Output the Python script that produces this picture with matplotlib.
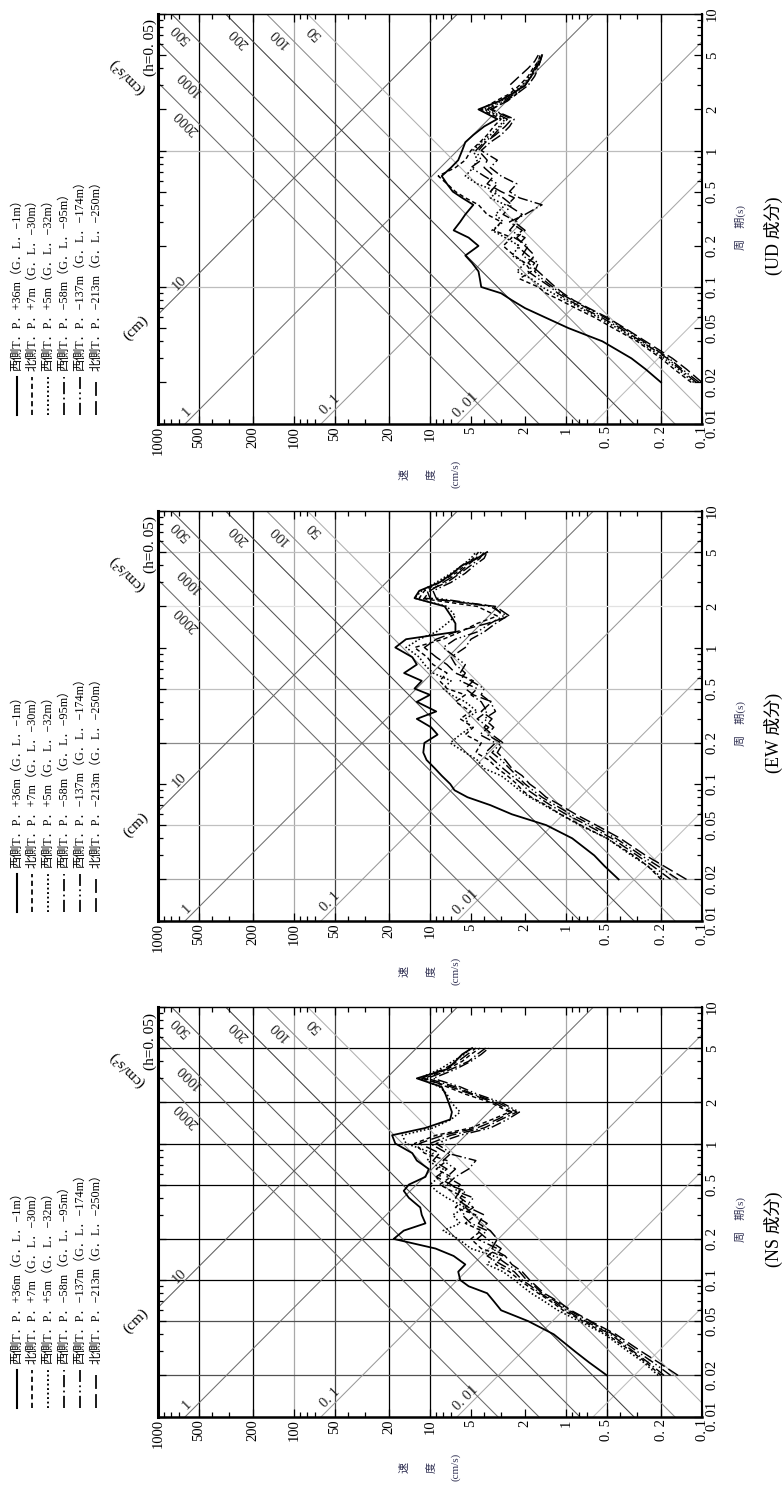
"""
三方向速度応答スペクトル (h=0.05)  UD / EW / NS
"""

import matplotlib
matplotlib.use('Agg')
import matplotlib.pyplot as plt
from matplotlib.lines import Line2D
from matplotlib.ticker import LogLocator, NullFormatter
import numpy as np

plt.rcParams['font.family'] = ['Liberation Serif', 'Noto Sans CJK JP', 'DejaVu Sans']

W, H = 783, 1488

# 周期 (s)
period = [0.02, 0.025, 0.03, 0.04, 0.05, 0.06, 0.07, 0.08, 0.09, 0.1,
          0.115, 0.13, 0.15, 0.17, 0.2, 0.23, 0.26, 0.3, 0.34, 0.4,
          0.45, 0.5, 0.57, 0.65, 0.75, 0.85, 1.0, 1.15, 1.3, 1.5,
          1.7, 2.0, 2.3, 2.6, 3.0, 3.5, 4.0, 4.5, 5.0]

# UD 成分 速度 (cm/s)
ud_v1 = [0.2, 0.26, 0.33, 0.54, 0.96, 1.43, 2.0, 2.5, 3.0, 4.2,
         4.3, 4.4, 4.9, 5.5, 4.4, 5.2, 6.7, 6.0, 5.5, 4.8,
         5.8, 6.8, 7.5, 8.2, 7.0, 6.2, 5.8, 5.5, 4.8, 4.0,
         3.2, 4.4, 3.1, 2.5, 2.0, 1.8, 1.7, 1.55, 1.5]
ud_v2 = [0.12, 0.16, 0.2, 0.3, 0.45, 0.62, 0.85, 1.1, 1.4, 1.6,
         2.2, 1.8, 2.0, 2.4, 2.9, 2.5, 3.4, 3.0, 3.8, 4.4,
         5.5, 6.5, 7.5, 8.7, 6.5, 5.5, 5.0, 4.3, 3.8, 3.4,
         3.0, 4.2, 3.3, 2.6, 2.2, 1.9, 1.75, 1.6, 1.55]
ud_v3 = [0.115, 0.15, 0.19, 0.29, 0.42, 0.58, 0.78, 1.0, 1.25, 1.5,
         1.8, 2.3, 2.0, 2.5, 2.2, 2.8, 3.5, 2.9, 3.3, 2.8,
         3.6, 3.2, 4.5, 5.5, 4.8, 4.5, 4.8, 4.2, 3.6, 3.1,
         2.8, 4.0, 3.0, 2.5, 2.1, 1.85, 1.7, 1.6, 1.5]
ud_v4 = [0.11, 0.145, 0.18, 0.28, 0.4, 0.55, 0.75, 0.95, 1.15, 1.3,
         1.6, 1.9, 1.7, 2.1, 1.9, 2.4, 2.1, 2.6, 2.0, 1.5,
         2.2, 2.6, 2.3, 3.0, 3.6, 3.2, 4.2, 3.6, 3.0, 2.6,
         2.4, 3.5, 2.8, 2.3, 1.9, 1.7, 1.6, 1.55, 1.5]
ud_v5 = [0.105, 0.14, 0.175, 0.27, 0.38, 0.52, 0.7, 0.9, 1.1, 1.25,
         1.5, 1.7, 1.6, 1.9, 2.3, 2.0, 2.6, 2.3, 2.9, 2.5,
         2.9, 3.6, 3.2, 4.0, 5.0, 4.2, 4.6, 4.0, 3.4, 3.0,
         2.7, 3.8, 2.9, 2.4, 2.0, 1.8, 1.65, 1.55, 1.5]
ud_v6 = [0.1, 0.13, 0.165, 0.26, 0.37, 0.5, 0.68, 0.88, 1.05, 1.2,
         1.4, 1.6, 1.9, 1.7, 2.0, 2.3, 2.0, 2.4, 2.1, 2.7,
         2.4, 3.0, 3.8, 3.4, 4.0, 3.8, 4.4, 3.9, 3.3, 2.8,
         2.5, 3.6, 2.7, 2.3, 2.6, 2.2, 1.9, 1.7, 1.6]

# EW 成分
ew_v1 = [0.41, 0.52, 0.62, 0.9, 1.4, 2.5, 3.6, 5.3, 6.6, 7.1,
         8.2, 9.2, 10.6, 11.2, 11.0, 8.8, 9.8, 12.5, 9.0, 12.5,
         10.0, 13.0, 11.5, 15.5, 12.5, 13.5, 18.0, 15.0, 6.5, 6.5,
         7.0, 7.8, 13.0, 12.0, 8.5, 6.8, 5.8, 4.5, 3.8]
ew_v2 = [0.2, 0.25, 0.32, 0.5, 0.78, 1.1, 1.4, 1.8, 2.1, 2.3,
         2.7, 3.2, 3.7, 4.6, 4.2, 5.5, 4.8, 6.0, 5.0, 6.5,
         5.5, 7.5, 8.5, 7.5, 9.5, 10.5, 13.0, 8.0, 6.0, 4.5,
         3.2, 4.5, 12.0, 11.0, 8.5, 6.5, 5.5, 4.8, 4.4]
ew_v3 = [0.19, 0.25, 0.33, 0.5, 0.8, 1.1, 1.45, 1.85, 2.2, 2.5,
         3.0, 4.0, 4.5, 5.5, 7.1, 6.0, 5.0, 5.5, 4.5, 5.5,
         7.0, 8.0, 7.0, 9.5, 11.0, 12.0, 15.0, 12.0, 9.0, 7.5,
         6.5, 7.5, 13.0, 11.5, 9.0, 7.0, 5.8, 5.0, 4.6]
ew_v4 = [0.17, 0.23, 0.3, 0.46, 0.7, 1.0, 1.3, 1.6, 1.9, 2.1,
         2.5, 2.9, 3.4, 3.9, 3.3, 4.3, 3.7, 4.5, 3.8, 4.2,
         5.0, 4.5, 6.0, 5.5, 6.5, 7.0, 5.5, 5.0, 4.0, 3.3,
         2.7, 3.6, 10.0, 10.5, 7.5, 6.0, 5.0, 4.3, 4.0]
ew_v5 = [0.15, 0.21, 0.28, 0.43, 0.65, 0.92, 1.2, 1.5, 1.75, 2.0,
         2.3, 2.6, 3.0, 3.5, 3.0, 3.8, 3.4, 4.0, 3.3, 3.6,
         4.2, 4.0, 5.0, 6.0, 5.5, 6.5, 8.0, 6.5, 4.5, 3.6,
         2.9, 3.4, 9.0, 9.5, 7.0, 5.5, 4.7, 4.0, 3.8]
ew_v6 = [0.13, 0.19, 0.26, 0.4, 0.6, 0.85, 1.1, 1.4, 1.6, 1.85,
         2.1, 2.5, 2.8, 3.2, 2.9, 3.5, 4.0, 3.5, 4.2, 3.5,
         4.8, 5.5, 4.8, 6.5, 7.5, 9.0, 11.0, 9.0, 6.5, 3.8,
         2.6, 3.3, 11.0, 10.0, 8.0, 6.2, 5.3, 4.6, 4.2]

# NS 成分
ns_v1 = [0.5, 0.68, 0.86, 1.23, 1.9, 3.0, 3.4, 3.8, 5.2, 6.0,
         6.2, 5.5, 6.7, 9.1, 18.5, 15.6, 10.8, 11.5, 11.8, 14.3,
         15.6, 14.3, 10.8, 10.2, 12.5, 13.5, 18.0, 19.0, 10.8, 7.1,
         6.9, 7.3, 7.7, 8.2, 12.5, 7.5, 6.5, 5.8, 4.9]
ns_v2 = [0.2, 0.26, 0.33, 0.5, 0.75, 1.05, 1.3, 1.6, 1.9, 2.2,
         2.6, 3.3, 2.9, 4.2, 5.0, 4.2, 5.5, 4.6, 6.5, 5.5,
         7.0, 8.5, 7.0, 9.0, 7.5, 11.0, 13.0, 9.0, 5.0, 3.5,
         2.6, 3.6, 5.5, 7.5, 11.0, 7.5, 5.8, 5.0, 4.3]
ns_v3 = [0.21, 0.27, 0.35, 0.52, 0.8, 1.15, 1.45, 1.8, 2.1, 2.4,
         2.9, 3.8, 3.4, 5.0, 6.2, 8.0, 6.0, 6.8, 5.5, 7.5,
         9.0, 10.0, 8.5, 8.0, 10.5, 9.5, 15.0, 16.0, 9.5, 7.0,
         6.0, 7.0, 7.5, 8.5, 12.0, 8.5, 6.8, 5.6, 5.0]
ns_v4 = [0.19, 0.25, 0.32, 0.47, 0.72, 1.0, 1.25, 1.55, 1.8, 2.1,
         2.4, 3.0, 3.8, 3.2, 4.5, 3.8, 5.0, 5.8, 4.8, 6.0,
         5.5, 7.5, 6.5, 5.2, 4.6, 7.5, 10.0, 7.0, 4.0, 3.0,
         2.3, 3.2, 4.8, 6.5, 10.5, 7.0, 5.2, 4.5, 3.9]
ns_v5 = [0.17, 0.23, 0.3, 0.45, 0.68, 0.95, 1.2, 1.5, 1.7, 1.95,
         2.2, 2.7, 3.3, 3.0, 3.8, 4.5, 3.8, 4.8, 5.5, 4.8,
         6.5, 6.0, 7.5, 6.5, 8.0, 7.0, 9.0, 6.0, 3.6, 2.7,
         2.2, 3.0, 4.5, 6.0, 9.5, 6.5, 5.0, 4.2, 3.7]
ns_v6 = [0.15, 0.21, 0.28, 0.43, 0.66, 0.92, 1.15, 1.45, 1.65, 1.85,
         2.1, 2.5, 2.8, 3.5, 3.2, 3.6, 4.4, 4.0, 5.2, 6.5,
         6.0, 7.0, 9.0, 7.5, 9.5, 8.5, 12.0, 8.0, 4.5, 3.2,
         2.5, 3.4, 5.0, 7.0, 11.5, 8.0, 6.2, 5.3, 4.6]

legend_labels = ['西側T．P．+36m（G．L．−1m）',
                 '北側T．P．+7m（G．L．−30m）',
                 '西側T．P．+5m（G．L．−32m）',
                 '西側T．P．−58m（G．L．−95m）',
                 '西側T．P．−137m（G．L．−174m）',
                 '北側T．P．−213m（G．L．−250m）']
line_styles = ['-', (0, (3, 2)), (0, (1, 1.4)), (0, (7, 2, 1, 2)),
               (0, (7, 2, 1, 2, 1, 2)), (0, (8, 3))]
line_widths = [1.3, 1.05, 1.15, 1.05, 1.05, 1.05]

vel_ticks = [1000, 500, 200, 100, 50, 20, 10, 5, 2, 1, 0.5, 0.2, 0.1]
vel_tick_labels = ['1000', '500', '200', '100', '50', '20', '10', '5', '2', '1',
                   '0. 5', '0. 2', '0. 1']
per_ticks = [0.01, 0.02, 0.05, 0.1, 0.2, 0.5, 1, 2, 5, 10]
per_tick_labels = ['0. 01', '0. 02', '0. 05', '0. 1', '0. 2', '0. 5', '1', '2', '5', '10']

# 変位 (cm) / 加速度 (cm/s2) の斜線
disp_values = [0.001, 0.01, 0.1, 1, 10]
disp_colors = ['#bdbdbd', '#a8a8a8', '#999999', '#707070', '#606060']
disp_text = {0.01: ('0. 01', 0.0137), 0.1: ('0. 1', 0.0137), 1: ('1', 0.0121), 10: ('10', 0.107)}
acc_values = [50, 100, 200, 500, 1000, 2000]
acc_colors = ['#b0b0b0', '#8c8c8c', '#404040', '#555555', '#606060', '#6a6a6a']
acc_text = {50: 7.4, 100: 6.7, 200: 6.7, 500: 7.2, 1000: 3.1, 2000: 1.62}

# 速度方向の縦線 (共通)
vel_grid = {500: 'k', 200: 'k', 100: '#a8a8a8', 50: '#404040', 20: 'k', 10: 'k',
            1: '#a8a8a8', 0.5: 'k', 0.2: 'k'}

panels = [
    dict(name='(UD 成分)', top=14, curves=[ud_v1, ud_v2, ud_v3, ud_v4, ud_v5, ud_v6],
         per_grid={1: '#bdbdbd', 0.1: '#bdbdbd'}),
    dict(name='(EW 成分)', top=511, curves=[ew_v1, ew_v2, ew_v3, ew_v4, ew_v5, ew_v6],
         per_grid={5: '#c0c0c0', 2: '#e2e2e2', 0.5: '#c0c0c0', 0.2: '#8a8a8a',
                   0.05: '#c0c0c0', 0.02: '#a8a8a8'}),
    dict(name='(NS 成分)', top=1007, curves=[ns_v1, ns_v2, ns_v3, ns_v4, ns_v5, ns_v6],
         per_grid={5: 'k', 2: 'k', 1: 'k', 0.5: 'k', 0.2: 'k', 0.1: 'k',
                   0.05: '#505050', 0.02: '#505050'}),
]

fig = plt.figure(figsize=(W / 100, H / 100), dpi=100)
fig.patch.set_facecolor('white')


def fx(px):
    return px / W


def fy(py):
    return 1 - py / H


AX_L, AX_R, AX_H = 158, 702, 409.5
T_arr = np.array(period)
t_line = np.array([0.005, 20.0])

for p in panels:
    top = p['top']
    ax = fig.add_axes([fx(AX_L), fy(top + AX_H), (AX_R - AX_L) / W, AX_H / H])
    ax.set_xscale('log')
    ax.set_yscale('log')

    # 格子線
    for v, c in vel_grid.items():
        ax.axvline(v, color=c, lw=0.9, zorder=1)
    for t, c in p['per_grid'].items():
        ax.axhline(t, color=c, lw=0.9, zorder=1)

    # 変位・加速度の斜線
    for d, c in zip(disp_values, disp_colors):
        ax.plot(2 * np.pi * d / t_line, t_line, color=c, lw=0.75, zorder=1)
    for a, c in zip(acc_values, acc_colors):
        ax.plot(a * t_line / (2 * np.pi), t_line, color=c, lw=0.75, zorder=1)
    for d, (lab, tl) in disp_text.items():
        ax.annotate(lab, xy=(2 * np.pi * d / tl, tl), xytext=(-7, 0),
                    textcoords='offset points', rotation=45, rotation_mode='anchor',
                    ha='center', va='center', fontsize=10.5, color='#222222',
                    annotation_clip=False)
    for a, tl in acc_text.items():
        ax.annotate(str(a), xy=(a * tl / (2 * np.pi), tl), xytext=(-7.5, 0),
                    textcoords='offset points', rotation=135, rotation_mode='anchor',
                    ha='center', va='center', fontsize=10.5, color='#222222',
                    annotation_clip=False)

    # 応答スペクトル
    for vals, ls, lw in zip(p['curves'], line_styles, line_widths):
        ax.plot(vals, T_arr, color='k', ls=ls, lw=lw, zorder=3)

    ax.set_xlim(1000, 0.1)
    ax.set_ylim(0.01, 10)

    ax.set_xticks(vel_ticks)
    ax.set_xticklabels(vel_tick_labels, rotation=90, fontsize=10.5)
    ax.set_yticks(per_ticks)
    ax.set_yticklabels(per_tick_labels, rotation=90, va='center', fontsize=10.5)
    ax.xaxis.set_minor_locator(LogLocator(base=10, subs=(3, 4, 7, 8, 9)))
    ax.yaxis.set_minor_locator(LogLocator(base=10, subs=(3, 4, 6, 7, 8, 9)))
    ax.xaxis.set_minor_formatter(NullFormatter())
    ax.yaxis.set_minor_formatter(NullFormatter())
    ax.tick_params(which='both', direction='in', top=True, bottom=True,
                   left=True, right=True, labelleft=False, labelright=True,
                   color='k', width=0.9)
    ax.tick_params(which='major', length=6)
    ax.tick_params(which='minor', length=3.5)
    ax.tick_params(axis='x', pad=2)
    ax.tick_params(axis='y', pad=3)
    for side, lw in [('left', 2.2), ('bottom', 1.8), ('top', 1.0), ('right', 1.5)]:
        ax.spines[side].set_linewidth(lw)

    # 軸まわりの文字
    fig.text(fx(150), fy(top + 34), '(h=0. 05)', rotation=90, fontsize=11,
             ha='center', va='center')
    fig.text(fx(127), fy(top + 62), '(cm/s²)', rotation=135, fontsize=11,
             ha='center', va='center')
    fig.text(fx(136), fy(top + 314), '(cm)', rotation=45, fontsize=11,
             ha='center', va='center')
    fig.text(fx(740), fy(top + 213), '周　期(s)', rotation=90, fontsize=8,
             ha='center', va='center', color='#333355')
    fig.text(fx(773), fy(top + 222), p['name'], rotation=90, fontsize=13,
             ha='center', va='center')
    for ch, px in [('速', 404), ('度', 431), ('(cm/s)', 456)]:
        fig.text(fx(px), fy(top + 460), ch, rotation=90, fontsize=8,
                 ha='center', va='center', color='#333355')

    # 凡例
    for i, (lab, ls, lw) in enumerate(zip(legend_labels, line_styles, line_widths)):
        x = [17, 32, 48, 64, 80, 96][i]
        fig.add_artist(Line2D([fx(x), fx(x)], [fy(top + 401), fy(top + 363)],
                              transform=fig.transFigure, color='k', ls=ls, lw=lw + 0.2))
        fig.text(fx(x), fy(top + 357), lab, rotation=90, rotation_mode='anchor',
                 ha='left', va='center', fontsize=8.7)

fig.savefig('out.png', dpi=100, facecolor='white')
plt.close(fig)
